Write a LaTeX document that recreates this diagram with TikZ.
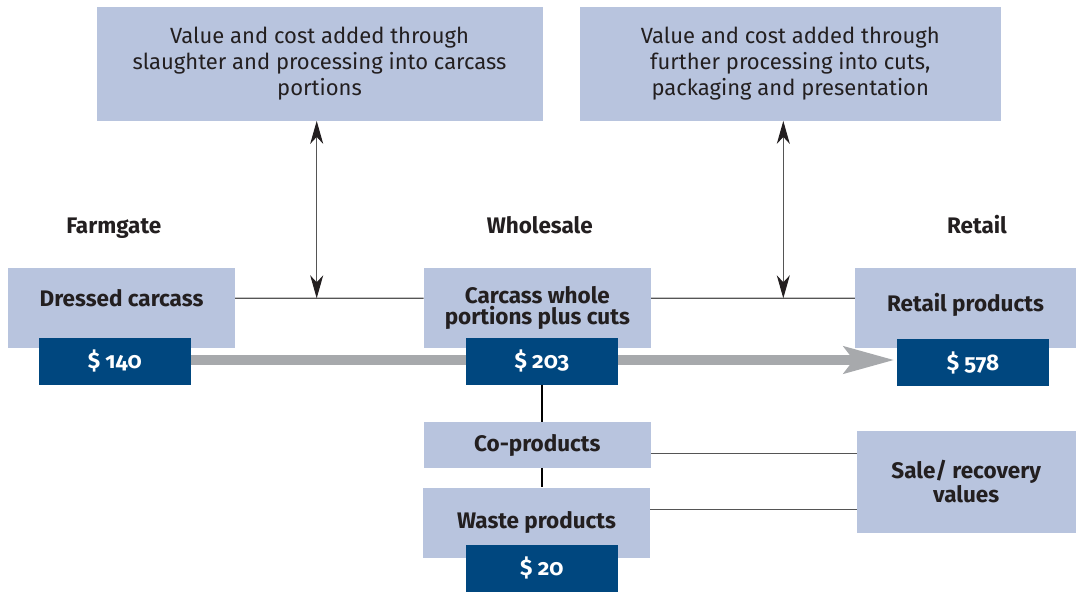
\documentclass[tikz,border=0pt]{standalone}
\usepackage{fontspec}
\setmainfont{Fira Sans}
\newfontfamily\pricefont[Numbers=OldStyle]{Fira Sans}
\usetikzlibrary{arrows.meta,backgrounds}
\definecolor{paleblue}{HTML}{B8C4DE}
\definecolor{darkblue}{HTML}{00477F}
\definecolor{flowgray}{HTML}{A7A9AC}
\definecolor{inkgray}{HTML}{231F20}
\definecolor{linegray}{HTML}{555555}

\begin{document}
\begin{tikzpicture}[
            x=1pt, y=-1pt,
            note/.style={rectangle, fill=paleblue, text=inkgray, align=center,
                         inner sep=0pt, minimum height=114pt, text depth=5pt,
                         font=\fontsize{22}{26}\selectfont},
            stage/.style={rectangle, fill=paleblue, text=inkgray, align=center,
                          inner sep=0pt, font=\fontsize{22.5}{20.5}\selectfont\bfseries},
            price/.style={rectangle, fill=darkblue, text=white, inner sep=0pt,
                          minimum width=152pt, minimum height=47pt,
                          font=\pricefont\fontsize{22.5}{24}\selectfont\bfseries},
            heading/.style={anchor=base, text=inkgray,
                            font=\fontsize{22.5}{24}\selectfont\bfseries},
            link/.style={draw=linegray, line width=1.2pt},
            branch/.style={draw=black, line width=2pt},
            dblarrow/.style={{Stealth[length=23pt,width=13pt,inset=7pt,color=inkgray]}-{Stealth[length=23pt,width=13pt,inset=7pt,color=inkgray]},
                             draw=linegray, line width=1.1pt},
            flow/.style={-{Stealth[length=50pt,width=26pt,inset=9pt]}, draw=flowgray,
                         line width=10.5pt, shorten >=2pt}
        ]
            \useasboundingbox (0,0) rectangle (1076,592);

            % value added boxes
            \node[note, minimum width=446pt] (slaughter) at (319.5,63.7)
                {Value and cost added through\\slaughter and processing into carcass\\portions};
            \node[note, minimum width=421pt] (further) at (790.3,63.7)
                {Value and cost added through\\further processing into cuts,\\packaging and presentation};

            \node[heading] (farmgate) at (113.8,233.3) {Farmgate};
            \node[heading] (wholesale) at (539.7,233.3) {Wholesale};
            \node[heading] (retail) at (977,233) {Retail};

            % stages of the chain
            \node[stage, minimum width=227pt, minimum height=80pt, text height=16pt, text depth=19pt] (dressed) at (121.5,308.2) {Dressed carcass};
            \node[stage, minimum width=227pt, minimum height=80pt, text depth=5.5pt] (carcass) at (537.3,308.3) {Carcass whole\\portions plus cuts};
            \node[stage, minimum width=221pt, minimum height=80pt, text height=16pt, text depth=8.6pt] (products) at (965.5,308.2) {Retail products};
            \node[stage, minimum width=227pt, minimum height=46pt, text height=16pt, text depth=2pt] (coprod) at (537.3,444.7) {Co-products};
            \node[stage, minimum width=227pt, minimum height=70pt, text height=16pt, text depth=4.4pt] (waste) at (536.5,522.5) {Waste products};
            \node[stage, minimum width=219pt, minimum height=102pt, text depth=1pt] (sale) at (966.2,481.8) {Sale/ recovery\\values};

            % prices
            \node[price] (p140) at (114.8,361) {\$ 140};
            \node[price] (p203) at (541.8,361) {\$ 203};
            \node[price] (p578) at (973,362.5) {\$ 578};
            \node[price] (p20) at (541.8,568.3) {\$ 20};

            \begin{scope}[on background layer]
                \draw[flow] ([yshift=1pt]p140.east) -- ([yshift=1pt]p140.east -| p578.west);
            \end{scope}

            \coordinate (m1) at (316.7,298.3);
            \coordinate (m2) at (783.3,298.3);
            \draw[link] ([yshift=10pt]dressed.east) -- ([yshift=10pt]carcass.west);
            \draw[link] ([yshift=10pt]carcass.east) -- ([yshift=10pt]products.west);
            \draw[dblarrow] (slaughter.south -| m1) -- (m1);
            \draw[dblarrow] (further.south -| m2) -- (m2);

            \draw[branch] (p203.south) -- (p203 |- coprod.north);
            \draw[branch] (p203 |- coprod.south) -- (p203 |- waste.north);
            \draw[link] ([yshift=-8.6pt]coprod.east) -- ([yshift=-8.6pt]coprod.east -| sale.west);
            \draw[link] ([yshift=13.2pt]waste.east) -- ([yshift=13.2pt]waste.east -| sale.west);
        \end{tikzpicture}
\end{document}
